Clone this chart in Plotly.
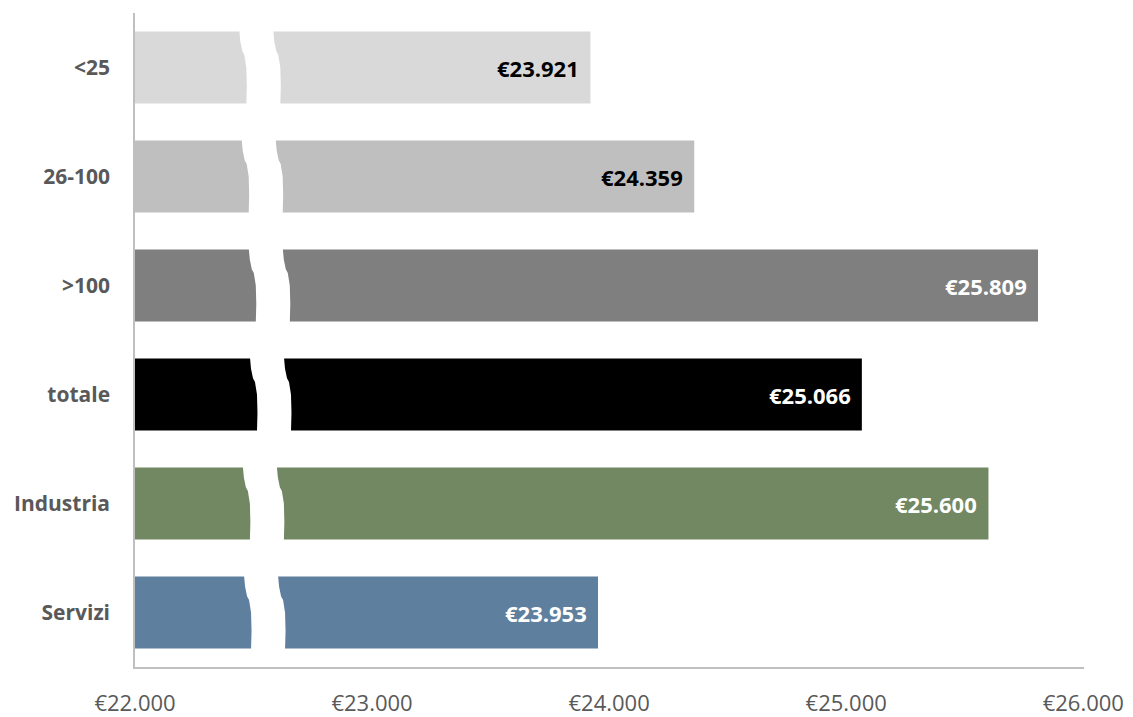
import plotly.graph_objects as go

categories = ["Servizi", "Industria", "totale", ">100", "26-100", "<25"]
values = [23953, 25600, 25066, 25809, 24359, 23921]
bar_colors = ["#5f7f9e", "#728862", "#000000", "#7f7f7f", "#bfbfbf", "#d9d9d9"]
label_colors = ["white", "white", "white", "white", "black", "black"]
x_ticks = [22000, 23000, 24000, 25000, 26000]
x_ticktext = ["€22.000", "€23.000", "€24.000", "€25.000", "€26.000"]
# break start (data units) for each bar, bottom to top
break_start = [22460, 22455, 22485, 22480, 22450, 22440]

FONT = "Open Sans"
pos = list(range(len(categories)))
BW = 0.66

fig = go.Figure()
fig.add_trace(go.Bar(
    y=pos, x=values, base=0, orientation="h",
    marker=dict(color=bar_colors, line=dict(width=0)),
    width=BW, hoverinfo="skip",
))

# data labels
for p, v, c in zip(pos, values, label_colors):
    fig.add_annotation(
        x=v, y=p, xref="x", yref="y", text=f"<b>€{v:,}</b>".replace(",", "."),
        showarrow=False, xanchor="right", xshift=-9,
        font=dict(family=FONT, size=22, color=c),
    )

# axis break shapes (white wavy gap)
px = 1000 / 237.1  # data units per pixel
gap = 34 * px
for p, xs in zip(pos, break_start):
    top = p + BW / 2 + 0.01
    bot = p - BW / 2 - 0.01
    h = top - bot
    def edge(x0):
        return [
            (x0, top),
            (x0 + 1 * px, top - 0.15 * h),
            (x0 + 3 * px, top - 0.28 * h),
            (x0 + 5 * px, top - 0.33 * h),
            (x0 + 7 * px, top - 0.50 * h),
            (x0 + 7.5 * px, top - 0.75 * h),
            (x0 + 7 * px, bot),
        ]
    left = edge(xs)
    right = edge(xs + gap)[::-1]
    ptsall = left + right
    path = "M " + " L ".join(f"{a},{b}" for a, b in ptsall) + " Z"
    fig.add_shape(type="path", path=path, xref="x", yref="y",
                  fillcolor="white", line=dict(width=0), layer="above")

fig.update_layout(
    width=1133, height=717,
    margin=dict(l=135, r=49, t=13, b=50),
    plot_bgcolor="white", paper_bgcolor="white",
    showlegend=False,
    bargap=0.34,
)
fig.update_xaxes(
    range=[22000, 26003], tickvals=x_ticks, ticktext=x_ticktext, automargin=False,
    showgrid=False, zeroline=False, showline=True, linecolor="#bfbfbf", linewidth=1.5,
    tickfont=dict(family=FONT, size=22, color="#595959"), ticks="", ticklabelstandoff=16,
)
fig.update_yaxes(
    range=[-0.5, 5.5], tickvals=pos, ticktext=[f"<b>{c}</b>" for c in categories], automargin=False,
    showgrid=False, zeroline=False, showline=True, linecolor="#bfbfbf", linewidth=1.5,
    tickfont=dict(family=FONT, size=21, color="#595959"), ticks="", ticklabelstandoff=19,
)

fig.write_html("out.html", config={"displayModeBar": False},
               post_script="document.body.style.margin='0px';document.body.style.overflow='hidden';")
